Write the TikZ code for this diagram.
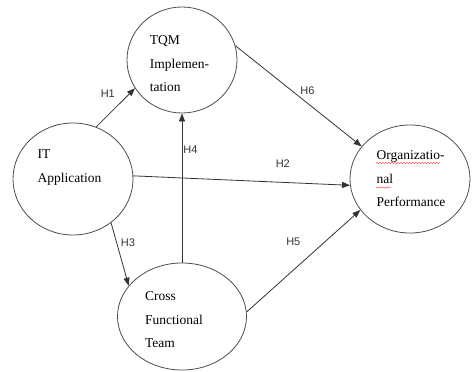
\documentclass[tikz,border=0pt]{standalone}
\usepackage{fontspec}
\setmainfont{Liberation Serif}
\newfontfamily\labelfont{Liberation Sans}
\usepackage{tikz}
\usetikzlibrary{arrows.meta}
\usetikzlibrary{shapes.geometric}
\usetikzlibrary{decorations.pathmorphing}

\begin{document}
\begin{tikzpicture}[x=1pt, y=-1pt,
        construct/.style = {draw=black!70, line width=0.8pt, ellipse, inner sep=0pt},
        ctext/.style = {align=left, inner sep=0pt, font=\fontsize{13.5}{23.5}\selectfont},
        path/.style = {draw=black!80, line width=0.8pt, -{Triangle[length=8pt,width=6pt]}},
        hyp/.style = {font=\labelfont\fontsize{11}{13}\selectfont, text=black!80, inner sep=1pt}]
        \useasboundingbox (0,0) rectangle (472,372);
        % the four constructs
        \node[construct, minimum width=110, minimum height=106] (tqm) at (182,60) {};
        \node[construct, minimum width=120, minimum height=112] (it) at (73,179) {};
        \node[construct, minimum width=120, minimum height=108] (org) at (410,179) {};
        \node[construct, minimum width=129, minimum height=107] (cft) at (182,316.5) {};
        \node[ctext] (tqm-text) at ([shift={(-2.5,4)}]tqm.center) {TQM\\Implemen-\\tation};
        \node[ctext] (it-text) at ([shift={(-3.5,-11.5)}]it.center) {IT\\Application};
        \node[ctext] (org-text) at ([shift={(1,0)}]org.center) {Organizatio-\\nal\\Performance};
        \node[ctext] (cft-text) at ([shift={(-8,3.5)}]cft.center) {Cross\\Functional\\Team};
        % spell-check marks
        \draw[red!80, line width=0.4pt, decorate, decoration={snake, amplitude=0.7pt, segment length=3pt}] (376,163) -- (440,163);
        \draw[red!80, line width=0.4pt, decorate, decoration={snake, amplitude=0.7pt, segment length=3pt}] (376,187.5) -- (391,187.5);
        % hypotheses
        \draw[path] (it.66) -- (tqm.211) node[hyp, pos=0.62, above left=4pt] (h1) {H1};
        \draw[path] (it.3) -- (org.186) node[hyp, pos=0.69, above=13pt] (h2) {H2};
        \draw[path] (it.-49) -- (cft.150) node[hyp, pos=0.31, right=3pt] (h3) {H3};
        \draw[path] (cft.north) -- (tqm.south) node[hyp, pos=0.755, right=0pt] (h4) {H4};
        \draw[path] (cft.4) -- (org.212) node[hyp, pos=0.41, above=23pt] (h5) {H5};
        \draw[path] (tqm.15) -- (org.146) node[hyp, pos=0.57, above=7pt] (h6) {H6};
    \end{tikzpicture}
\end{document}
